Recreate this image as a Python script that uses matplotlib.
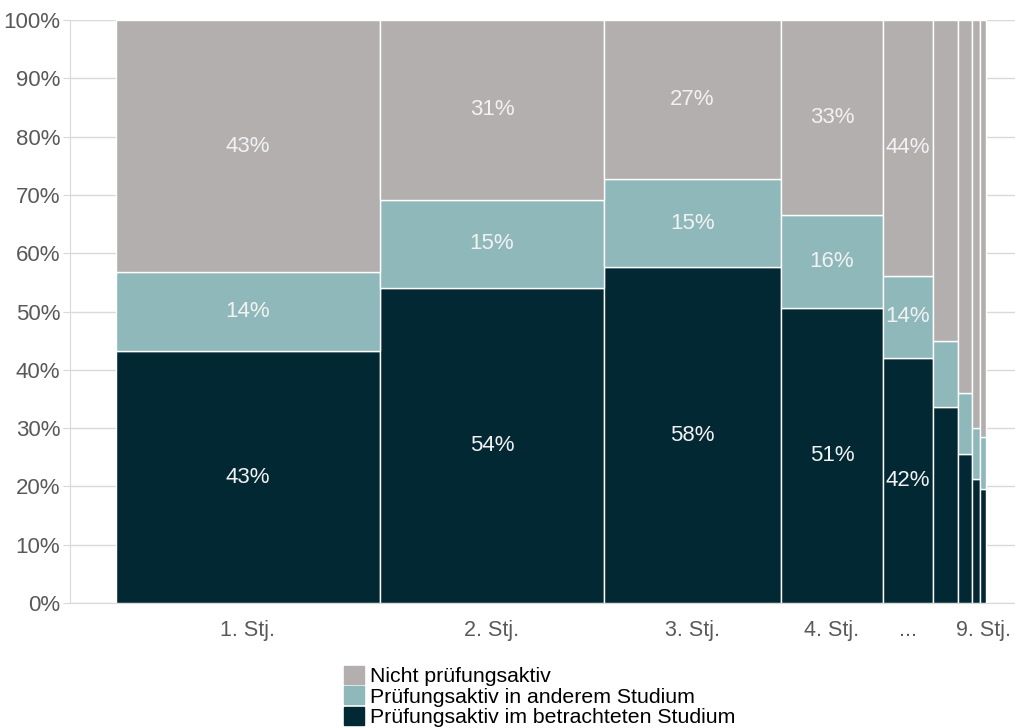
import matplotlib
matplotlib.use('Agg')
import matplotlib.pyplot as plt
from matplotlib.patches import Patch
import numpy as np

# share of students per semester (column widths) and status shares in %
semesters = ['1. Stj.', '2. Stj.', '3. Stj.', '4. Stj.', '...', '', '', '', '9. Stj.']
widths = [264, 224, 177, 102, 50, 25, 14, 8, 6]
aktiv_hier = [43.2, 54.0, 57.6, 50.6, 42.1, 33.7, 25.6, 21.3, 19.5]
aktiv_anders = [13.5, 15.2, 15.1, 16.0, 14.0, 11.2, 10.5, 8.8, 8.9]
nicht_aktiv = [100 - a - b for a, b in zip(aktiv_hier, aktiv_anders)]
n_labeled = 5  # labels only on the wide columns

series = [
    ('Prüfungsaktiv im betrachteten Studium', aktiv_hier, '#022833'),
    ('Prüfungsaktiv in anderem Studium', aktiv_anders, '#8fb8bb'),
    ('Nicht prüfungsaktiv', nicht_aktiv, '#b3afaf'),
]

plt.rcParams['font.family'] = ['Liberation Sans', 'DejaVu Sans']

fig = plt.figure(figsize=(10.15, 7.28), dpi=100)
ax = fig.add_axes([70 / 1015, 1 - 603 / 728, 1 - 70 / 1015, (603 - 20) / 728])

left = np.concatenate([[0], np.cumsum(widths)[:-1]])
centers = left + np.array(widths) / 2

bottom = np.zeros(len(widths))
for name, vals, col in series:
    vals = np.array(vals)
    ax.bar(left, vals, width=widths, bottom=bottom, align='edge', color=col,
           edgecolor='white', linewidth=1, label=name, zorder=3)
    for i in range(n_labeled):
        ax.text(centers[i], bottom[i] + vals[i] / 2, f'{vals[i]:.0f}%',
                ha='center', va='center', color='#f2f2f2', fontsize=16, zorder=4)
    bottom += vals

ax.set_xlim(-46, sum(widths) + 29)
ax.set_ylim(0, 100)
ax.set_yticks(range(0, 101, 10))
ax.set_yticklabels([f'{v}%' for v in range(0, 101, 10)], fontsize=16, color='#595959')
ax.yaxis.grid(True, color='#d9d9d9', linewidth=1, zorder=0)

ax.set_xticks(centers)
ax.set_xticklabels(semesters, fontsize=15.5, color='#595959',
                   family=['Liberation Sans Narrow', 'Liberation Sans'])
ax.tick_params(axis='x', length=0, pad=12)
ax.tick_params(axis='y', length=5, color='#d9d9d9', pad=2)

for s in ['top', 'right']:
    ax.spines[s].set_visible(False)
ax.spines['left'].set_color('#d9d9d9')
ax.spines['bottom'].set_color('#d9d9d9')

handles = [Patch(color=c) for _, _, c in series[::-1]]
labels = [n for n, _, _ in series[::-1]]
fig.legend(handles, labels, loc='upper left', bbox_to_anchor=(333 / 1015, 1 - 655 / 728),
           frameon=False, fontsize=15.3, handlelength=0.95, handleheight=0.95,
           handletextpad=0.3, labelspacing=0.0, borderpad=0)

fig.savefig('out.png', dpi=100)
